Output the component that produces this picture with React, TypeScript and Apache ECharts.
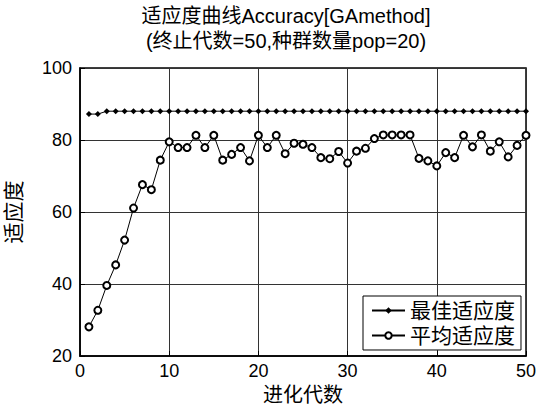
import React, { useEffect, useRef } from "react";
import * as echarts from "echarts";

const generations = Array.from({ length: 50 }, (_, i) => i + 1);
const bestFitness = [
  87.2, 87.2, 88, 88, 88, 88, 88, 88, 88, 88,
  88, 88, 88, 88, 88, 88, 88, 88, 88, 88,
  88, 88, 88, 88, 88, 88, 88, 88, 88, 88,
  88, 88, 88, 88, 88, 88, 88, 88, 88, 88,
  88, 88, 88, 88, 88, 88, 88, 88, 88, 88,
];
const avgFitness = [
  28.1, 32.7, 39.6, 45.3, 52.2, 61.1, 67.6, 66.2, 74.4, 79.5,
  77.9, 77.9, 81.3, 77.9, 81.3, 74.4, 76.0, 77.9, 74.2, 81.3,
  77.9, 81.3, 76.2, 79.1, 78.8, 77.9, 75.1, 74.8, 76.8, 73.6,
  76.9, 77.7, 80.4, 81.4, 81.4, 81.4, 81.4, 74.9, 74.2, 72.8,
  76.5, 75.1, 81.3, 78.1, 81.4, 76.9, 79.5, 75.3, 78.5, 81.3,
];
const xTicks = { min: 0, max: 50, interval: 10 };
const yTicks = { min: 20, max: 100, interval: 20 };
const titleLines = ["适应度曲线Accuracy[GAmethod]", "(终止代数=50,种群数量pop=20)"];
const seriesNames = ["最佳适应度", "平均适应度"];

const FONT = "'Liberation Sans', Arial, 'Noto Sans CJK SC', sans-serif";

export default function App() {
  const ref = useRef<HTMLDivElement>(null);
  useEffect(() => {
    if (!ref.current) return;
    const chart = echarts.init(ref.current, null, { renderer: "svg" });
    chart.setOption({
      animation: false,
      backgroundColor: "#fff",
      textStyle: { fontFamily: FONT, color: "#000" },
      graphic: [
        {
          type: "text",
          x: 286,
          y: 16,
          style: { text: titleLines[0], fill: "#000", font: `20px ${FONT}`, textAlign: "center", textVerticalAlign: "middle" },
        },
        {
          type: "text",
          x: 286,
          y: 41,
          style: { text: titleLines[1], fill: "#000", font: `20px ${FONT}`, textAlign: "center", textVerticalAlign: "middle" },
        },
      ],
      grid: {
        left: 80,
        right: 25,
        top: 68,
        bottom: 49,
        containLabel: false,
        outerBoundsMode: "none",
        show: true,
        borderColor: "#000",
        borderWidth: 1.5,
        backgroundColor: "transparent",
      },
      legend: {
        orient: "vertical",
        left: 363,
        top: 296,
        backgroundColor: "#fff",
        borderColor: "#000",
        borderWidth: 1,
        borderRadius: 0,
        padding: [4, 6, 4, 8],
        itemWidth: 33,
        itemHeight: 8,
        itemGap: 4,
        textStyle: { fontSize: 21, color: "#000", fontFamily: FONT },
        data: seriesNames,
      },
      xAxis: {
        type: "value",
        min: xTicks.min,
        max: xTicks.max,
        interval: xTicks.interval,
        name: "进化代数",
        nameLocation: "middle",
        nameGap: 19,
        nameTextStyle: { fontSize: 20, color: "#000", fontFamily: FONT },
        axisLine: { show: true, lineStyle: { color: "#000", width: 1.5 } },
        axisTick: { show: true, inside: true, length: 5, lineStyle: { color: "#000" } },
        axisLabel: { fontSize: 18, color: "#000", margin: 6, fontFamily: FONT },
        splitLine: { show: true, lineStyle: { color: "#333", width: 1 } },
      },
      yAxis: {
        type: "value",
        min: yTicks.min,
        max: yTicks.max,
        interval: yTicks.interval,
        name: "适应度",
        nameLocation: "middle",
        nameGap: 56,
        nameTextStyle: { fontSize: 21, color: "#000", fontFamily: FONT },
        axisLine: { show: true, lineStyle: { color: "#000", width: 1.5 } },
        axisTick: { show: true, inside: true, length: 5, lineStyle: { color: "#000" } },
        axisLabel: { fontSize: 18, color: "#000", margin: 8, fontFamily: FONT },
        splitLine: { show: true, lineStyle: { color: "#333", width: 1 } },
      },
      series: [
        {
          name: seriesNames[0],
          type: "line",
          data: generations.map((g, i) => [g, bestFitness[i]]),
          symbol: "diamond",
          symbolSize: 6,
          itemStyle: { color: "#000" },
          lineStyle: { color: "#000", width: 1 },
        },
        {
          name: seriesNames[1],
          type: "line",
          data: generations.map((g, i) => [g, avgFitness[i]]),
          symbol: "emptyCircle",
          symbolSize: 7,
          itemStyle: { color: "#000", borderColor: "#000", borderWidth: 1 },
          lineStyle: { color: "#000", width: 1 },
        },
      ],
    });
    return () => chart.dispose();
  }, []);
  return <div ref={ref} style={{ width: 551, height: 405, position: "absolute", left: 0, top: 0 }} />;
}
